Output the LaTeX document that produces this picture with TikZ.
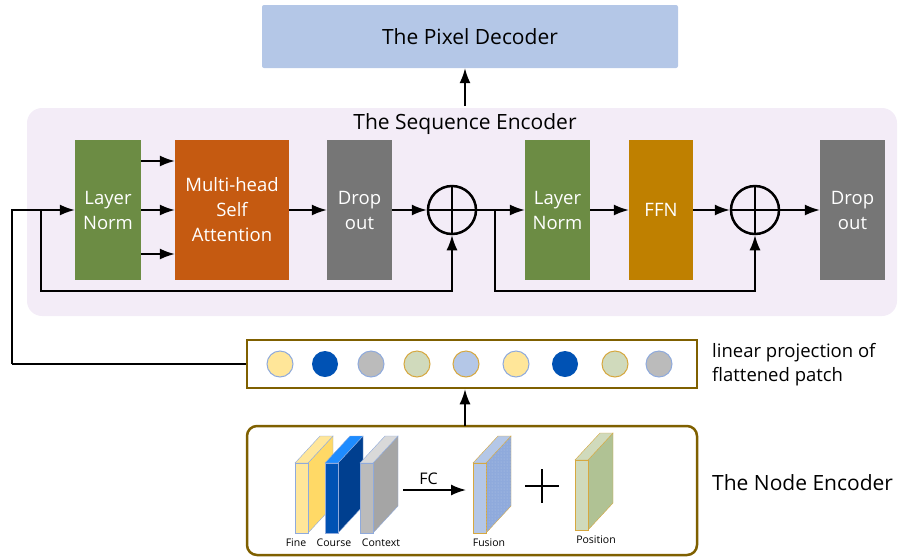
\documentclass[tikz,border=0pt]{standalone}
\usepackage{fontspec}
\setmainfont{Open Sans}
\usetikzlibrary{arrows.meta,patterns}
\definecolor{lngreen}{RGB}{108,140,68}
\definecolor{mhsa}{RGB}{197,90,17}
\definecolor{dropg}{RGB}{118,118,118}
\definecolor{ffnc}{RGB}{191,128,0}
\definecolor{decblue}{RGB}{180,199,231}
\definecolor{seqbg}{RGB}{243,236,247}
\definecolor{brownb}{RGB}{127,96,0}
\definecolor{cyel}{RGB}{255,230,153}
\definecolor{cyel2}{RGB}{255,217,102}
\definecolor{cdblue}{RGB}{0,82,180}
\definecolor{cdblue2}{RGB}{0,63,143}
\definecolor{cbblue}{RGB}{30,140,255}
\definecolor{cgrey}{RGB}{187,187,187}
\definecolor{cgrey2}{RGB}{165,165,165}
\definecolor{cgrey3}{RGB}{217,217,217}
\definecolor{cgreen}{RGB}{208,218,188}
\definecolor{cgreen2}{RGB}{176,194,148}
\definecolor{cblue}{RGB}{180,199,231}
\definecolor{cblue2}{RGB}{143,170,220}
\definecolor{bblue}{RGB}{143,170,220}
\definecolor{bgold}{RGB}{214,168,64}
\tikzset{
  blk/.style={minimum height=140pt,inner sep=0pt,text=white,align=center,font=\fontsize{18.5}{25}\selectfont},
  arr/.style={line width=1.6pt,-{Latex[length=15pt,width=11pt]}},
  ln/.style={line width=1.6pt},
  oplus/.style={circle,draw,line width=2.5pt,minimum size=48pt,inner sep=0pt},
  tok/.style={circle,minimum size=26pt,inner sep=0pt,line width=1pt},
  small/.style={font=\fontsize{10.5}{12}\selectfont},
  big/.style={font=\fontsize{21}{24}\selectfont},
}
\newcommand\myslab[6]{%
 \filldraw[draw=#6,fill=#4] (#1+13,#2) -- ++(25,-27) -- ++(0,70) -- ++(-25,27) -- cycle;
 \filldraw[draw=#6,fill=#5] (#1,#2) -- ++(25,-27) -- ++(13,0) -- ++(-25,27) -- cycle;
 \filldraw[draw=#6,fill=#3] (#1,#2) rectangle ++(13,70);
}
\begin{document}
\begin{tikzpicture}[x=1pt,y=-1pt]
\useasboundingbox (0,0) rectangle (898,558);
% pixel decoder
\node[fill=decblue,rounded corners=2pt,minimum width=416pt,minimum height=63pt,big] (dec) at (470,36.5) {The Pixel Decoder};
% sequence encoder bg
\node[fill=seqbg,rounded corners=15pt,minimum width=870pt,minimum height=208pt] (seq) at (462,212) {};
\node[big] (seqt) at (465,124) {The Sequence Encoder};
\coordinate (a1) at (465,106);
\draw[arr] (a1) -- (a1 |- dec.south);
% blocks
\node[blk,fill=lngreen,minimum width=66pt] (ln1) at (108,210) {Layer\\Norm};
\node[blk,fill=mhsa,minimum width=114pt] (mh) at (232,210) {Multi-head\\Self\\Attention};
\node[blk,fill=dropg,minimum width=65pt] (do1) at (359.5,210) {Drop\\out};
\node[oplus] (c1) at (452,210) {};
\draw[line width=2.5pt] (c1.north) -- (c1.south) (c1.west) -- (c1.east);
\node[blk,fill=lngreen,minimum width=65pt] (ln2) at (557.5,210) {Layer\\Norm};
\node[blk,fill=ffnc,minimum width=64pt] (ffn) at (661,210) {FFN};
\node[oplus] (c2) at (755,210) {};
\draw[line width=2.5pt] (c2.north) -- (c2.south) (c2.west) -- (c2.east);
\node[blk,fill=dropg,minimum width=65pt] (do2) at (852.5,210) {Drop\\out};
% arrows in encoder
\foreach \yy in {161,210,254}{
  \draw[arr] (ln1.east |- 0,\yy) -- (mh.west |- 0,\yy);
}
\draw[arr] (mh) -- (do1);
\draw[arr] (do1) -- (c1);
\draw[arr] (c1) -- (ln2);
\draw[arr] (ln2) -- (ffn);
\draw[arr] (ffn) -- (c2);
\draw[arr] (c2) -- (do2);
\coordinate (s1) at (41,210);
\coordinate (s2) at (495,210);
\draw[arr] (s1) -- ++(0,81) -| (c1.south);
\draw[arr] (s2) -- ++(0,81) -| (c2.south);
% projection box
\node[draw=brownb,line width=2.5pt,fill=white,minimum width=450pt,minimum height=48pt] (proj) at (472,364) {};
\coordinate (l1) at (12,364);
\draw[ln] (proj.west) -- (l1);
\draw[arr] (l1) |- (ln1.west);
\node[tok,fill=cyel,draw=bblue] (t1) at (280,364) {};
\node[tok,fill=cdblue] (t2) at (325,364) {};
\node[tok,fill=cgrey,draw=bblue] (t3) at (371,364) {};
\node[tok,fill=cgreen,draw=bgold] (t4) at (417,364) {};
\node[tok,fill=cblue,draw=bgold] (t5) at (466,364) {};
\node[tok,fill=cyel,draw=bblue] (t6) at (516,364) {};
\node[tok,fill=cdblue] (t7) at (565,364) {};
\node[tok,fill=cgreen,draw=bgold] (t8) at (615,364) {};
\node[tok,fill=cgrey,draw=bblue] (t9) at (659,364) {};
\node[anchor=west,align=left,font=\fontsize{18.5}{24}\selectfont,inner sep=0pt] (lpt) at (712,365) {linear projection of\\flattened patch};
% node encoder
\node[draw=brownb,line width=2.5pt,rounded corners=10pt,minimum width=450pt,minimum height=129pt] (ne) at (472,490.5) {};
\coordinate (a2) at (465,426);
\draw[arr] (a2) -- (a2 |- proj.south);
\node[anchor=west,big,inner sep=0pt] (net) at (712,483) {The Node Encoder};
% slabs
\myslab{295}{463}{cyel}{cyel2}{cyel}{bblue}
\myslab{325}{463}{cdblue}{cdblue2}{cbblue}{bblue}
\myslab{360}{463}{cgrey}{cgrey2}{cgrey3}{bblue}
\myslab{473}{463}{cblue}{cblue2}{cblue}{bgold}
\fill[pattern=dots,pattern color=cblue] (486,463) -- ++(25,-27) -- ++(0,70) -- ++(-25,27) -- cycle;
\myslab{575}{460}{cgreen}{cgreen2}{cgreen}{bgold}
\node[small] (lf) at (296,543) {Fine};
\node[small] (lc) at (334,543) {Course};
\node[small] (lx) at (381,543) {Context};
\node[small] (lfu) at (489,543) {Fusion};
\node[small] (lpo) at (596,540) {Position};
\coordinate (f1) at (403,490);
\coordinate (f2) at (466,490);
\draw[arr] (f1) -- (f2) node[midway,above=1pt,xshift=-6pt,font=\fontsize{16}{18}\selectfont] {FC};
\coordinate (p0) at (542,486);
\draw[line width=2.5pt] (p0) ++(-17,0) -- ++(34,0) (p0) ++(0,-17) -- ++(0,34);
\end{tikzpicture}
\end{document}
